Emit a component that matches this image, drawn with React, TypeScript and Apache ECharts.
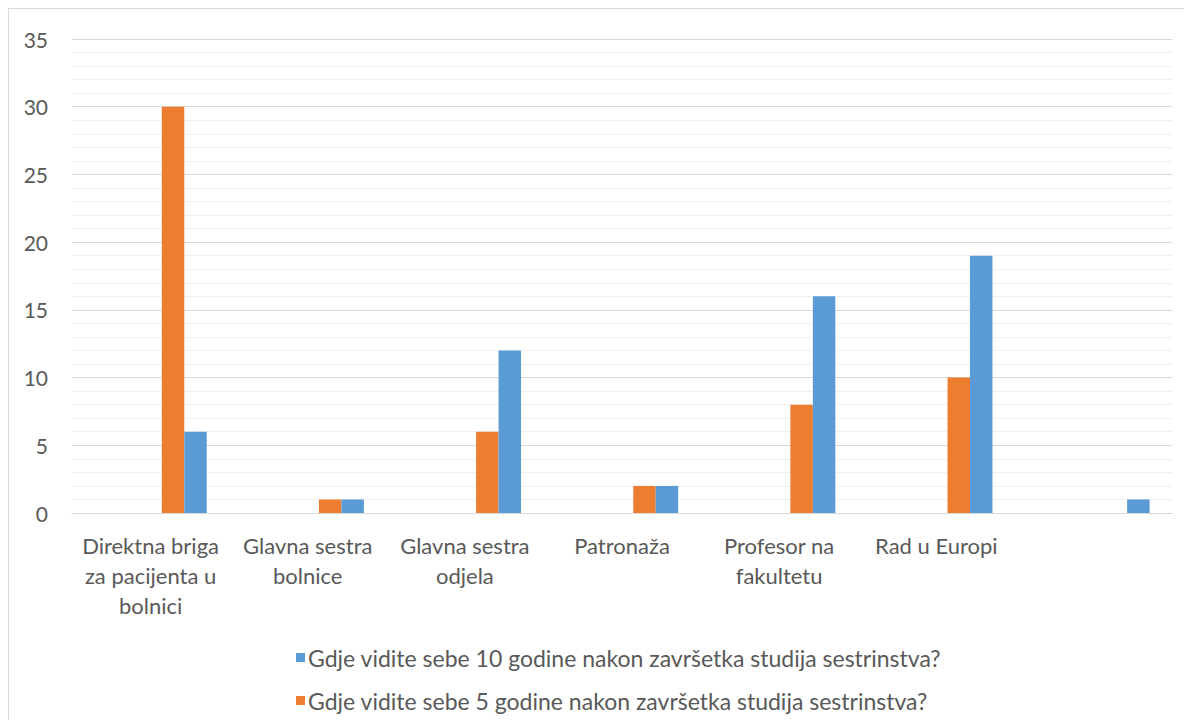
import React, { useEffect, useRef } from "react";
import * as echarts from "echarts";

const categories = [
  "Direktna briga\nza pacijenta u\nbolnici",
  "Glavna sestra\nbolnice",
  "Glavna sestra\nodjela",
  "Patronaža",
  "Profesor na\nfakultetu",
  "Rad u Europi",
  "",
];
const series10Name = "Gdje vidite sebe 10 godine nakon završetka studija sestrinstva?";
const series5Name = "Gdje vidite sebe 5 godine nakon završetka studija sestrinstva?";
const values5: (number | null)[] = [30, 1, 6, 2, 8, 10, null];
const values10: (number | null)[] = [6, 1, 12, 2, 16, 19, 1];
const emptyValues: (number | null)[] = [null, null, null, null, null, null, null];
const yTicks = { min: 0, max: 35, interval: 5 };

const FONT = "Lato";
const TEXT = "#595959";

export default function App() {
  const ref = useRef<HTMLDivElement>(null);
  useEffect(() => {
    if (!ref.current) return;
    const chart = echarts.init(ref.current, undefined, { renderer: "svg" });
    const emptySeries = [0, 1, 2].map((i) => ({
      name: "empty" + i,
      type: "bar" as const,
      data: emptyValues,
      barGap: "0%",
      barCategoryGap: "28.5%",
    }));
    chart.setOption({
      animation: false,
      textStyle: { fontFamily: FONT },
      grid: { left: 63, right: 12, top: 30, bottom: 207, containLabel: false },
      legend: {
        data: [series10Name, series5Name],
        orient: "vertical",
        left: 282,
        top: 632,
        itemWidth: 9,
        itemHeight: 9,
        itemGap: 20,
        icon: "rect",
        textStyle: { color: TEXT, fontSize: 23, fontFamily: FONT, padding: [0, 0, 0, -2] },
      },
      xAxis: {
        type: "category",
        data: categories,
        axisLine: { show: true, lineStyle: { color: "#d9d9d9", width: 1 } },
        axisTick: { show: false },
        axisLabel: {
          interval: 0,
          color: TEXT,
          fontSize: 22,
          fontFamily: FONT,
          lineHeight: 30,
          margin: 17,
        },
      },
      yAxis: {
        type: "value",
        min: yTicks.min,
        max: yTicks.max,
        interval: yTicks.interval,
        axisLine: { show: false },
        axisTick: { show: false },
        axisLabel: { color: TEXT, fontSize: 21, fontFamily: FONT, margin: 24 },
        splitLine: { show: true, lineStyle: { color: "#d9d9d9", width: 1 } },
        minorTick: { show: false, splitNumber: 5 },
        minorSplitLine: { show: true, lineStyle: { color: "#f0f0f0", width: 1 } },
      },
      series: [
        ...emptySeries,
        {
          name: series5Name,
          type: "bar",
          data: values5,
          barGap: "0%",
          barCategoryGap: "28.5%",
          itemStyle: { color: "#ED7D31" },
        },
        {
          name: series10Name,
          type: "bar",
          data: values10,
          barGap: "0%",
          barCategoryGap: "28.5%",
          itemStyle: { color: "#5B9BD5" },
        },
      ],
    });
    return () => chart.dispose();
  }, []);
  return (
    <div
      style={{
        width: 1176,
        height: 712,
        borderLeft: "1px solid #d9d9d9",
        borderTop: "1px solid #d9d9d9",
        boxSizing: "border-box",
      }}
    >
      <div ref={ref} style={{ width: 1175, height: 711 }} />
    </div>
  );
}
